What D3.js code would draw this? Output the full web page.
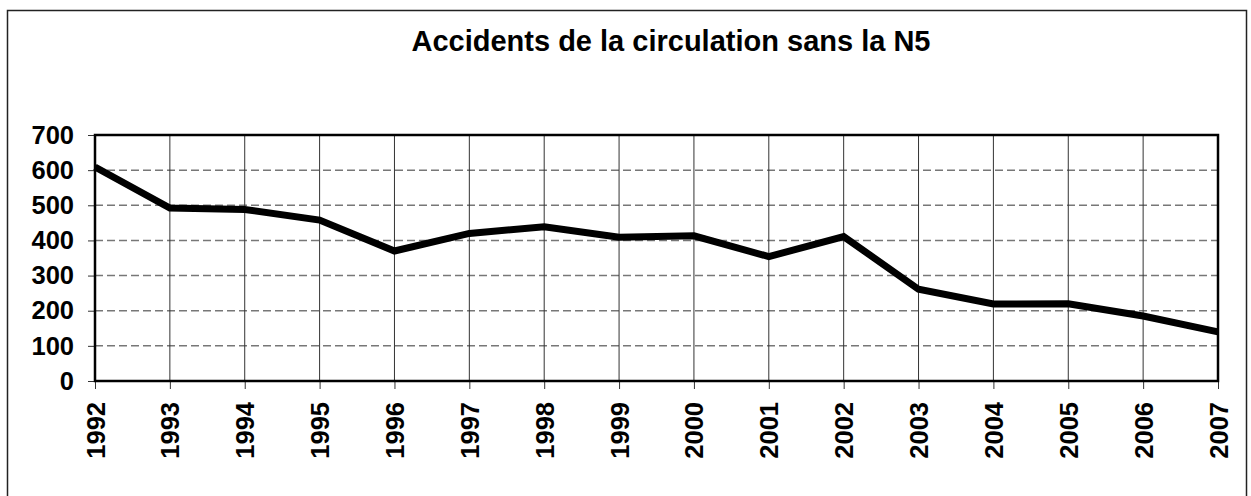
<!DOCTYPE html>
<html>
<head>
<meta charset="utf-8">
<script src="https://d3js.org/d3.v7.min.js"></script>
<style>
  body { margin: 0; background: #fff; }
  svg { display: block; font-family: "Liberation Sans", Arial, sans-serif; }
</style>
</head>
<body>
<script>
var years = [1992, 1993, 1994, 1995, 1996, 1997, 1998, 1999, 2000, 2001, 2002, 2003, 2004, 2005, 2006, 2007];
var accidents = [609, 492, 488, 458, 370, 420, 439, 409, 413, 354, 411, 261, 219, 220, 185, 140];
var yTicks = [0, 100, 200, 300, 400, 500, 600, 700];
var title = 'Accidents de la circulation sans la N5';

var W = 1251, H = 496;
var margin = {top: 135, right: 33, bottom: 115, left: 95},
    width = W - margin.left - margin.right,
    height = H - margin.top - margin.bottom;

var svg = d3.select('body').append('svg')
    .attr('width', W)
    .attr('height', H);

// outer frame
svg.append('rect')
    .attr('x', 7.5)
    .attr('y', 10.5)
    .attr('width', 1239)
    .attr('height', 490)
    .attr('fill', 'none')
    .attr('stroke', '#222')
    .attr('stroke-width', 1.5);

svg.append('text')
    .attr('x', 671)
    .attr('y', 51)
    .attr('text-anchor', 'middle')
    .style('font-size', '29px')
    .style('font-weight', 'bold')
    .text(title);

var g = svg.append('g')
    .attr('transform', 'translate(' + margin.left + ',' + margin.top + ')');

var x = d3.scalePoint().domain(years).range([0, width]);
var y = d3.scaleLinear().domain([0, 700]).range([height, 0]);

// horizontal dashed grid
g.append('g')
    .selectAll('line')
    .data(yTicks.filter(function(d) { return d > 0 && d < 700; }))
    .enter()
    .append('line')
    .attr('x1', 0)
    .attr('x2', width)
    .attr('y1', function(d) { return y(d); })
    .attr('y2', function(d) { return y(d); })
    .attr('stroke', '#777')
    .attr('stroke-width', 1.5)
    .attr('stroke-dasharray', '8,4');

// vertical grid
g.append('g')
    .selectAll('line')
    .data(years.slice(1, -1))
    .enter()
    .append('line')
    .attr('x1', function(d) { return x(d); })
    .attr('x2', function(d) { return x(d); })
    .attr('y1', 0)
    .attr('y2', height)
    .attr('stroke', '#333')
    .attr('stroke-width', 1);

var yAxis = d3.axisLeft(y).tickValues(yTicks).tickSize(7).tickPadding(14);
var xAxis = d3.axisBottom(x).tickSize(8).tickPadding(0);

var ya = g.append('g').call(yAxis);
ya.select('.domain').remove();
ya.selectAll('.tick line').attr('stroke', '#333').attr('stroke-width', 1);
ya.selectAll('text')
    .style('font-size', '25.5px')
    .style('font-weight', 'bold')
    .attr('fill', '#000');

var xa = g.append('g')
    .attr('transform', 'translate(0,' + height + ')')
    .call(xAxis);
xa.select('.domain').remove();
xa.selectAll('.tick line').attr('stroke', '#333').attr('stroke-width', 1);
xa.selectAll('text')
    .style('font-size', '25.5px')
    .style('font-weight', 'bold')
    .attr('fill', '#000')
    .attr('text-anchor', 'end')
    .attr('dy', null)
    .attr('y', 0)
    .attr('transform', 'translate(9,21) rotate(-90)');

// plot frame
g.append('rect')
    .attr('x', 0)
    .attr('y', 0)
    .attr('width', width)
    .attr('height', height)
    .attr('fill', 'none')
    .attr('stroke', '#000')
    .attr('stroke-width', 2.5);

var line = d3.line()
    .x(function(d, i) { return x(years[i]); })
    .y(function(d) { return y(d); });

g.append('path')
    .datum(accidents)
    .attr('d', line)
    .attr('fill', 'none')
    .attr('stroke', '#000')
    .attr('stroke-width', 7)
    .attr('stroke-linejoin', 'miter');
</script>
</body>
</html>
